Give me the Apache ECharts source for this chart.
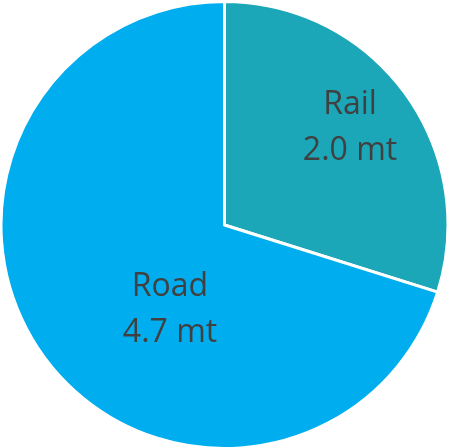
<!DOCTYPE html>
<html>
<head>
<meta charset="utf-8">
<script src="https://cdn.jsdelivr.net/npm/echarts@6/dist/echarts.min.js"></script>
<style>html,body{margin:0;padding:0;background:#fff;}#c{width:449px;height:448px;}</style>
</head>
<body>
<div id="c"></div>
<script>
const categories = ['Rail', 'Road'];
const values = [2.0, 4.7];
const unit = 'mt';
const colors = ['#1BA7B8', '#00AEEF'];
const labelPos = [[350, 128], [170, 310]];

const chart = echarts.init(document.getElementById('c'), null, {renderer: 'canvas'});
chart.setOption({
  animation: false,
  series: [{
    type: 'pie',
    center: [224.5, 225],
    radius: [0, 223.5],
    startAngle: 90,
    clockwise: true,
    avoidLabelOverlap: false,
    data: categories.map((c, i) => ({name: c, value: values[i], itemStyle: {color: colors[i]}})),
    itemStyle: {borderColor: '#ffffff', borderWidth: 3},
    label: {
      show: true,
      position: 'inside',
      formatter: p => p.name + '\n' + p.value.toFixed(1) + ' ' + unit,
      fontFamily: 'Open Sans',
      fontSize: 32,
      lineHeight: 46,
      color: '#404040',
      align: 'center',
      verticalAlign: 'middle'
    },
    labelLine: {show: false},
    labelLayout: p => ({x: labelPos[p.dataIndex][0], y: labelPos[p.dataIndex][1], align: 'center', verticalAlign: 'middle'}),
    emphasis: {disabled: true}
  }]
});
</script>
</body>
</html>
